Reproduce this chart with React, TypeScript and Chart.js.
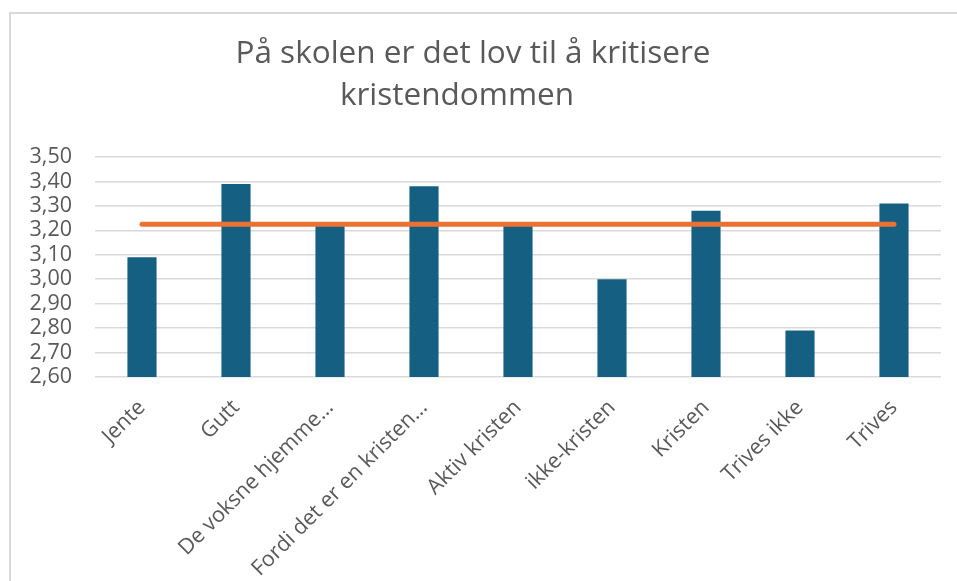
import React, { useEffect, useRef } from "react";
import { Chart, registerables } from "chart.js";

Chart.register(...registerables);

const categories = [
  "Jente",
  "Gutt",
  "De voksne hjemme…",
  "Fordi det er en kristen…",
  "Aktiv kristen",
  "ikke-kristen",
  "Kristen",
  "Trives ikke",
  "Trives",
];
const barValues = [3.09, 3.39, 3.22, 3.38, 3.22, 3.0, 3.28, 2.79, 3.31];
const averageValue = 3.225;
const averageValues = categories.map(() => averageValue);
const titleLines = ["På skolen er det lov til å kritisere", "kristendommen"];
const yMin = 2.6;
const yMax = 3.5;
const yStep = 0.1;

const FONT = "'Open Sans', 'Liberation Sans', Arial, sans-serif";
const TEXT_COLOR = "#595959";

const titlePlugin = {
  id: "customTitle",
  afterDraw(chart: any) {
    const ctx = chart.ctx;
    ctx.save();
    ctx.fillStyle = TEXT_COLOR;
    ctx.font = `31.5px ${FONT}`;
    ctx.textAlign = "center";
    ctx.textBaseline = "alphabetic";
    ctx.fillText(titleLines[0], 473, 63);
    ctx.fillText(titleLines[1], 457, 105);
    ctx.restore();
  },
};

export default function App() {
  const canvasRef = useRef<HTMLCanvasElement | null>(null);

  useEffect(() => {
    if (!canvasRef.current) return;
    const chart = new Chart(canvasRef.current, {
      type: "bar",
      data: {
        labels: categories,
        datasets: [
          {
            type: "line",
            label: "Gjennomsnitt",
            data: averageValues,
            borderColor: "#E97132",
            backgroundColor: "#E97132",
            borderWidth: 5,
            borderCapStyle: "round",
            pointRadius: 0,
            order: 0,
          } as any,
          {
            type: "bar",
            label: "Verdi",
            data: barValues,
            backgroundColor: "#156082",
            borderWidth: 0,
            categoryPercentage: 1,
            barPercentage: 0.31,
            order: 1,
          },
        ],
      },
      options: {
        responsive: false,
        animation: false,
        layout: { padding: { left: 0, right: 16, top: 157, bottom: 0 } },
        plugins: {
          legend: { display: false },
          title: { display: false },
          tooltip: { enabled: false },
        },
        scales: {
          x: {
            offset: true,
            grid: { display: false },
            border: { display: false },
            ticks: {
              color: TEXT_COLOR,
              font: { family: FONT, size: 21.5 },
              minRotation: 45,
              maxRotation: 45,
              autoSkip: false,
              padding: 10,
            },
            afterFit(scale: any) {
              scale.height = 204;
            },
          },
          y: {
            min: yMin,
            max: yMax,
            border: { display: false },
            grid: { color: "#d9d9d9", lineWidth: 1.5, drawTicks: false },
            ticks: {
              stepSize: yStep,
              autoSkip: false,
              color: TEXT_COLOR,
              font: { family: FONT, size: 21.5 },
              padding: 23,
              callback: (v: any) => Number(v).toFixed(2).replace(".", ","),
            },
            afterFit(scale: any) {
              scale.width = 95;
            },
          },
        },
      },
      plugins: [titlePlugin],
    });
    return () => chart.destroy();
  }, []);

  return (
    <div
      style={{
        position: "fixed",
        left: 0,
        top: 0,
        width: 957,
        height: 581,
        overflow: "hidden",
        background: "#ffffff",
      }}
    >
      <div
        style={{
          position: "absolute",
          left: 9,
          top: 12,
          width: 1000,
          height: 1000,
          border: "2px solid #d9d9d9",
          pointerEvents: "none",
        }}
      />
      <canvas
        ref={canvasRef}
        width={957}
        height={581}
        style={{ position: "absolute", left: 0, top: 0, width: 957, height: 581 }}
      />
    </div>
  );
}
